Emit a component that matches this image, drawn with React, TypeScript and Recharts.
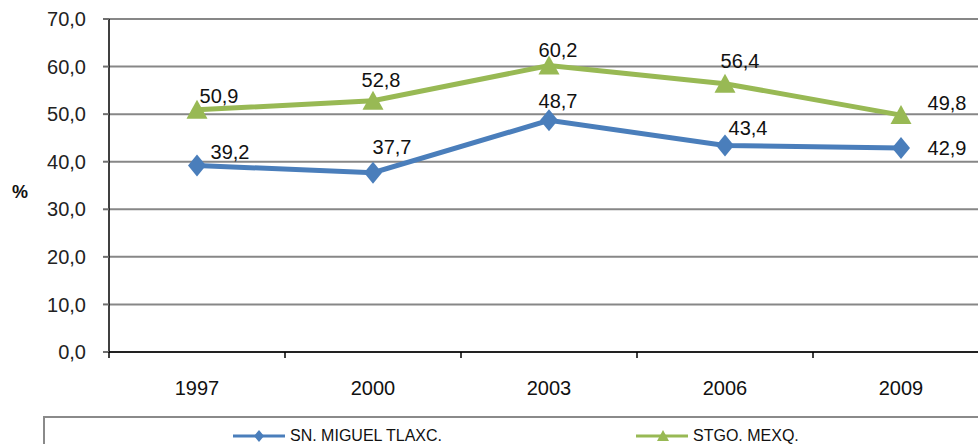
import { CartesianGrid, LabelList, Line, LineChart, XAxis, YAxis } from 'recharts'

const years = ['1997', '2000', '2003', '2006', '2009']
const tlaxcala = [39.2, 37.7, 48.7, 43.4, 42.9]
const mexquitic = [50.9, 52.8, 60.2, 56.4, 49.8]
const yTicks = [0, 10, 20, 30, 40, 50, 60, 70]

// label nudges (px) so the numbers sit where the original put them
const tlaxNudge = [[33, -14], [19, -26], [9, -19], [23, -18], [46, 0]]
const mexqNudge = [[22, -14], [8, -21], [9, -16], [15, -23], [46, -12]]

const BLUE = '#4a7ebb'
const GREEN = '#98b954'
const FONT = '"Liberation Sans", Arial, sans-serif'

const CHART_W = 1000
const CHART_H = 444
const LEFT = 21
const Y_AXIS_W = 88
const RIGHT = 11
const PLOT_W = CHART_W - LEFT - Y_AXIS_W - RIGHT

const data = years.map((year, i) => ({ year, tlax: tlaxcala[i], mexq: mexquitic[i] }))

const fmt = (v: number) => v.toFixed(1).replace('.', ',')

function diamond(cx: number, cy: number, fill: string, w = 9, h = 11, key?: any) {
  return <polygon key={key} points={`${cx},${cy - h} ${cx + w},${cy} ${cx},${cy + h} ${cx - w},${cy}`} fill={fill} />
}

function triangle(cx: number, cy: number, fill: string, w = 10.5, up = 10, down = 9, key?: any) {
  return <polygon key={key} points={`${cx},${cy - up} ${cx + w},${cy + down} ${cx - w},${cy + down}`} fill={fill} />
}

const blueDot = (p: any) => diamond(p.cx, p.cy, BLUE, 9, 11, `d${p.index}`)
const greenDot = (p: any) => triangle(p.cx, p.cy, GREEN, 10.5, 10, 9, `t${p.index}`)

function valueLabel(nudge: number[][]) {
  return (props: any) => {
    const { x, y, value, index } = props
    const [dx, dy] = nudge[index] || [0, -15]
    return (
      <text
        x={x + dx}
        y={y + dy}
        textAnchor="middle"
        dominantBaseline="central"
        fontFamily={FONT}
        fontSize={20}
        fill="#111"
      >
        {fmt(value)}
      </text>
    )
  }
}

function YearTick({ x, y, payload, index }: any) {
  const half = PLOT_W / years.length / 2
  return (
    <g>
      <line x1={x + half} x2={x + half} y1={y} y2={y + 6} stroke="#000" strokeWidth={1.5} />
      {index === 0 && <line x1={x - half} x2={x - half} y1={y} y2={y + 6} stroke="#000" strokeWidth={1.5} />}
      <text x={x} y={y + 36} textAnchor="middle" dominantBaseline="central" fontFamily={FONT} fontSize={20} fill="#111">
        {payload.value}
      </text>
    </g>
  )
}

function LegendBox() {
  const item = (x: number, color: string, marker: any, text: string) => (
    <div style={{ position: 'absolute', left: x, top: 0, display: 'flex', alignItems: 'center', height: 36 }}>
      <svg width={54} height={20} style={{ display: 'block' }}>
        <line x1={0} x2={52} y1={10} y2={10} stroke={color} strokeWidth={3} />
        {marker}
      </svg>
      <span style={{ fontFamily: FONT, fontSize: 16, color: '#111', marginLeft: 3 }}>{text}</span>
    </div>
  )
  return (
    <div
      style={{
        position: 'absolute',
        left: 43,
        top: 416,
        width: 1000,
        height: 60,
        borderTop: '2px solid #8a8a8a',
        borderLeft: '2px solid #8a8a8a',
      }}
    >
      {item(188, BLUE, diamond(26, 10, BLUE, 5, 6), 'SN. MIGUEL TLAXC.')}
      {item(591, GREEN, triangle(27, 10, GREEN, 6, 6, 5), 'STGO. MEXQ.')}
    </div>
  )
}

export default function App() {
  return (
    <div
      style={{
        position: 'absolute',
        left: 0,
        top: 0,
        width: 978,
        height: 444,
        overflow: 'hidden',
        background: '#fff',
      }}
    >
      <LineChart
        width={CHART_W}
        height={CHART_H}
        data={data}
        margin={{ top: 19, right: RIGHT, left: LEFT, bottom: 52 }}
      >
        <CartesianGrid vertical={false} stroke="#878787" strokeWidth={2} />
        <XAxis
          dataKey="year"
          scale="band"
          height={40}
          axisLine={{ stroke: '#000', strokeWidth: 1.5 }}
          tickLine={false}
          tickSize={0}
          tickMargin={0}
          tick={<YearTick />}
        />
        <YAxis
          width={Y_AXIS_W}
          domain={[0, 70]}
          ticks={yTicks}
          interval={0}
          tickFormatter={fmt}
          axisLine={{ stroke: '#000', strokeWidth: 1.5 }}
          tickLine={{ stroke: '#6e6e6e', strokeWidth: 2 }}
          tickSize={6}
          tickMargin={17}
          tick={{ fontFamily: FONT, fontSize: 20, fill: '#222' }}
          label={{
            value: '%',
            position: 'insideLeft',
            offset: -9,
            dy: 6,
            style: { fontFamily: FONT, fontSize: 18, fontWeight: 'bold', fill: '#111' },
          }}
        />
        <Line
          dataKey="tlax"
          stroke={BLUE}
          strokeWidth={5}
          dot={blueDot}
          activeDot={false}
          isAnimationActive={false}
        >
          <LabelList dataKey="tlax" content={valueLabel(tlaxNudge)} />
        </Line>
        <Line
          dataKey="mexq"
          stroke={GREEN}
          strokeWidth={5}
          dot={greenDot}
          activeDot={false}
          isAnimationActive={false}
        >
          <LabelList dataKey="mexq" content={valueLabel(mexqNudge)} />
        </Line>
      </LineChart>
      <LegendBox />
    </div>
  )
}
